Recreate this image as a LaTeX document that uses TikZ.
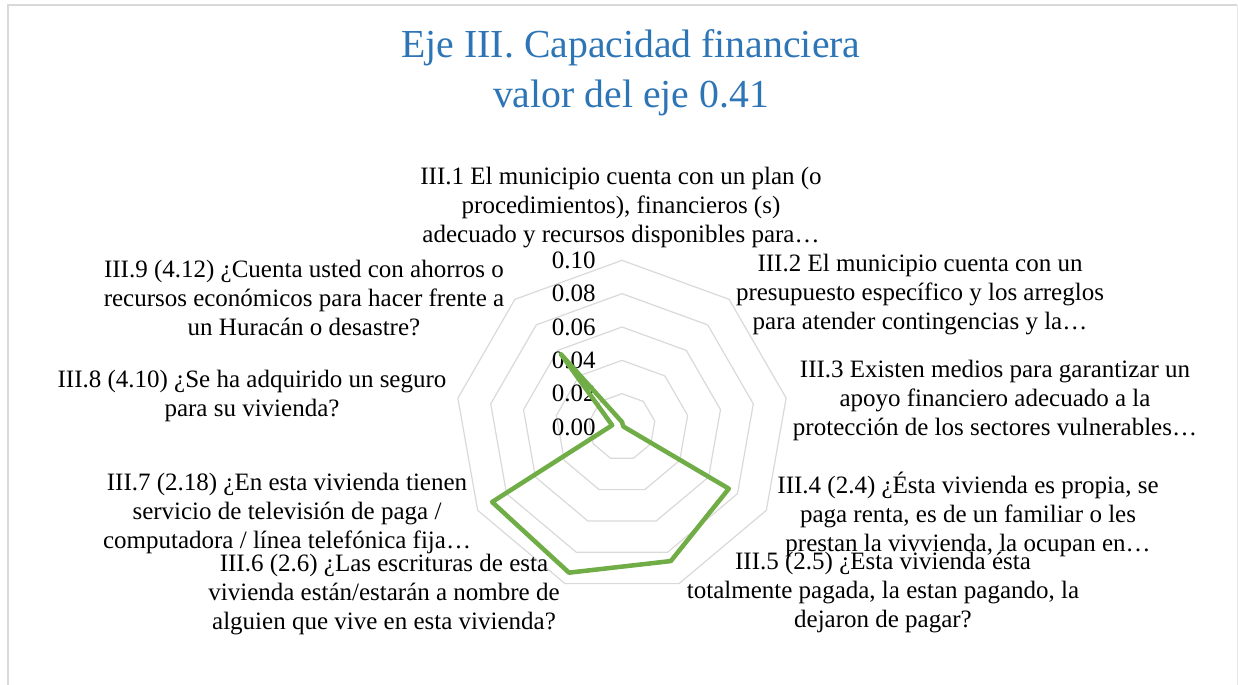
\documentclass[tikz,border=0pt]{standalone}
\usepackage{fontspec}
\setmainfont{Liberation Serif}
\usepackage{tikz}
\usetikzlibrary{calc}

\definecolor{titleblue}{RGB}{46,117,182}
\definecolor{gridgray}{RGB}{217,217,217}
\definecolor{seriesgreen}{RGB}{112,173,71}

\begin{document}
\begin{tikzpicture}[x=0.75pt,y=-0.75pt]
    \tikzstyle{axislabel} = [align=center, inner sep=0pt, font=\fontsize{18.75}{21.75}\selectfont];
    \tikzstyle{ticklabel} = [anchor=east, inner sep=0pt, font=\fontsize{18.75}{21.75}\selectfont];
    \tikzstyle{gridline} = [draw=gridgray, line width=0.9pt];
    \tikzstyle{series} = [draw=seriesgreen, line width=3.4pt, line join=round];

    \useasboundingbox (0,0) rectangle (1238,685);

    % Frame
    \draw[gridgray, line width=1.5pt] (8,685) -- (8,5) -- (1237,5);
    \draw[gridgray!60, line width=0.75pt] (1237,5) -- (1237,685);

    % Title
    \node[titleblue, align=center, font=\rmfamily\fontsize{29.8}{37.5}\selectfont] (title) at (631,73) {Eje III. Capacidad financiera\\valor del eje 0.41};

    % Radar grid
    \coordinate (C) at (622,427);
    \foreach \r in {1,...,5}
        \draw[gridline, shift={(C)}] (-90:{\r*33.33}) \foreach \a in {-50,-10,...,230} { -- (\a:{\r*33.33}) } -- cycle;

    % Scale
    \foreach \i/\v in {0/0.00,1/0.02,2/0.04,3/0.06,4/0.08,5/0.10}
        \node[ticklabel] (tick\i) at ($(C)+(-26,{-\i*33.33})$) {\v};

    % Series
    \foreach \k/\v in {1/0.003,2/0.001,3/0.001,4/0.074,5/0.0856,6/0.093,7/0.090,8/0.006,9/0.057}
        \coordinate (d\k) at ($(C)+({40*\k-130}:{\v*1666.7})$);
    \draw[series] (d1) -- (d2) -- (d3) -- (d4) -- (d5) -- (d6) -- (d7) -- (d8) -- (d9) -- cycle;

    % Axis labels
    \node[axislabel] (lab1) at (621,208) {III.1 El municipio cuenta con un plan (o\\procedimientos), financieros (s)\\adecuado y recursos disponibles para…};
    \node[axislabel] (lab2) at (920,295) {III.2 El municipio cuenta con un\\presupuesto específico y los arreglos\\para atender contingencias y la…};
    \node[axislabel] (lab3) at (995,400) {III.3 Existen medios para garantizar un\\apoyo financiero adecuado a la\\protección de los sectores vulnerables…};
    \node[axislabel] (lab4) at (968,514) {III.4 (2.4) ¿Ésta vivienda es propia, se\\paga renta, es de un familiar o les\\prestan la vivvienda, la ocupan en…};
    \node[axislabel] (lab5) at (883,592) {III.5 (2.5) ¿Esta vivienda ésta\\totalmente pagada, la estan pagando, la\\dejaron de pagar?};
    \node[axislabel] (lab6) at (384,595) {III.6 (2.6) ¿Las escrituras de esta\\vivienda están/estarán a nombre de\\alguien que vive en esta vivienda?};
    \node[axislabel] (lab7) at (287,513) {III.7 (2.18) ¿En esta vivienda tienen\\servicio de televisión de paga /\\computadora / línea telefónica fija…};
    \node[axislabel] (lab8) at (252,396) {III.8 (4.10) ¿Se ha adquirido un seguro\\para su vivienda?};
    \node[axislabel] (lab9) at (304,298) {III.9 (4.12) ¿Cuenta usted con ahorros o\\recursos económicos para hacer frente a\\un Huracán o desastre?};
\end{tikzpicture}
\end{document}
